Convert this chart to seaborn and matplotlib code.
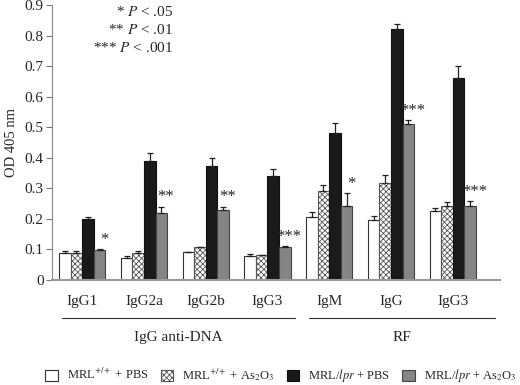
import numpy as np
import pandas as pd
import matplotlib
matplotlib.use("Agg")
import matplotlib.pyplot as plt
import seaborn as sns
from matplotlib.patches import Patch

# 데이터
antigens = ['IgG1', 'IgG2a', 'IgG2b', 'IgG3', 'IgM', 'IgG', 'IgG3 ']
tick_labels = ['IgG1', 'IgG2a', 'IgG2b', 'IgG3', 'IgM', 'IgG', 'IgG3']
groups = ['MRL+/+ + PBS', 'MRL+/+ + As2O3', 'MRL/lpr + PBS', 'MRL/lpr + As2O3']
legend_labels = [r'MRL$^{+/+}$ + PBS', r'MRL$^{+/+}$ + As$_2$O$_3$',
                 r'MRL/$\it{lpr}$ + PBS', r'MRL/$\it{lpr}$ + As$_2$O$_3$']

wt_pbs = [0.088, 0.072, 0.092, 0.078, 0.205, 0.196, 0.225]
wt_as = [0.088, 0.088, 0.108, 0.080, 0.290, 0.318, 0.243]
lpr_pbs = [0.200, 0.390, 0.372, 0.340, 0.480, 0.820, 0.660]
lpr_as = [0.098, 0.219, 0.229, 0.109, 0.243, 0.510, 0.243]

wt_pbs_err = [0.006, 0.005, 0.000, 0.008, 0.018, 0.013, 0.010]
wt_as_err = [0.008, 0.005, 0.000, 0.000, 0.020, 0.025, 0.011]
lpr_pbs_err = [0.005, 0.025, 0.026, 0.022, 0.033, 0.018, 0.040]
lpr_as_err = [0.002, 0.021, 0.011, 0.002, 0.040, 0.012, 0.014]

stars = ['*', '**', '**', '***', '*', '***', '***']
pvals = [r'* $P$ < .05', r'** $P$ < .01', r'*** $P$ < .001']

values = [wt_pbs, wt_as, lpr_pbs, lpr_as]
errors = [wt_pbs_err, wt_as_err, lpr_pbs_err, lpr_as_err]

df = pd.DataFrame({
    'antigen': np.tile(antigens, 4),
    'group': np.repeat(groups, len(antigens)),
    'od': np.concatenate(values),
    'err': np.concatenate(errors),
})

sns.set_style('white')
plt.rcParams['font.family'] = ['Liberation Serif', 'DejaVu Serif']
plt.rcParams['mathtext.fontset'] = 'stix'
plt.rcParams['hatch.color'] = '#777777'
plt.rcParams['hatch.linewidth'] = 0.6

fig = plt.figure(figsize=(5.2, 3.85), dpi=100)
ax = fig.add_axes([0.1, 0.273, 0.862, 0.714])

colors = ['white', 'white', '#1a1a1a', '#858585']
sns.barplot(data=df, x='antigen', y='od', hue='group', order=antigens,
            hue_order=groups, palette=colors, errorbar=None, width=0.75,
            ax=ax, legend=False, saturation=1)

hatches = ['', 'xxxxxx', '', '']
edges = ['#333333', '#555555', '#111111', '#444444']
for cont, h, ec, err in zip(ax.containers, hatches, edges, errors):
    xs, tops = [], []
    for bar in cont:
        bar.set_hatch(h)
        bar.set_edgecolor(ec)
        bar.set_linewidth(0.8)
        xs.append(bar.get_x() + bar.get_width() / 2)
        tops.append(bar.get_height())
    ax.errorbar(xs, tops, yerr=[np.zeros(len(err)), err], fmt='none',
                ecolor='#222222', elinewidth=0.9, capsize=2.5, capthick=0.9)

# 유의성 별표
for bar, e, s in zip(ax.containers[3], lpr_as_err, stars):
    ax.text(bar.get_x() + bar.get_width() / 2 + 0.07,
            bar.get_height() + e + 0.03, s, ha='center',
            va='center', fontsize=12, zorder=5)

for i, t in enumerate(pvals):
    ax.text(0.27, 0.975 - i * 0.065, t, transform=ax.transAxes,
            ha='right', va='center', fontsize=11)

ax.set_xlim(-0.49, 6.77)
ax.set_ylim(0, 0.9)
ax.set_yticks(np.arange(0, 0.91, 0.1))
ax.set_yticklabels(['0'] + [f'{v:.1f}' for v in np.arange(0.1, 0.91, 0.1)])
ax.set_xticks(range(len(antigens)))
ax.set_xticklabels(tick_labels)
ax.tick_params(axis='y', direction='out', length=4, width=0.8,
               color='#777777', labelsize=11, pad=2, left=True)
ax.tick_params(axis='x', length=0, labelsize=11, pad=11)
ax.set_xlabel('')
ax.set_ylabel('OD 405 nm', fontsize=10.5, labelpad=5)
sns.despine(ax=ax)
ax.spines['left'].set_color('#888888')
ax.spines['bottom'].set_color('#999999')
ax.spines['bottom'].set_linewidth(1.5)

# 그룹 구분선과 이름
trans = ax.get_xaxis_transform()
for x0, x1, name in [(-0.32, 3.44, 'IgG anti-DNA'), (3.68, 6.68, 'RF')]:
    ax.plot([x0, x1], [-0.138, -0.138], color='#333333', lw=0.8,
            transform=trans, clip_on=False)
    ax.text((x0 + x1) / 2, -0.21, name, transform=trans, ha='center',
            va='center', fontsize=11)

handles = [Patch(facecolor=c, edgecolor=ec, hatch=h, linewidth=0.8)
           for c, ec, h in zip(colors, edges, hatches)]
fig.legend(handles, legend_labels, loc='center', ncol=4,
           bbox_to_anchor=(0.54, 0.025), frameon=False, fontsize=9,
           handlelength=1.0, handleheight=1.0, handletextpad=0.7,
           columnspacing=1.0, borderaxespad=0, borderpad=0)

plt.savefig('out.png', dpi=100)
